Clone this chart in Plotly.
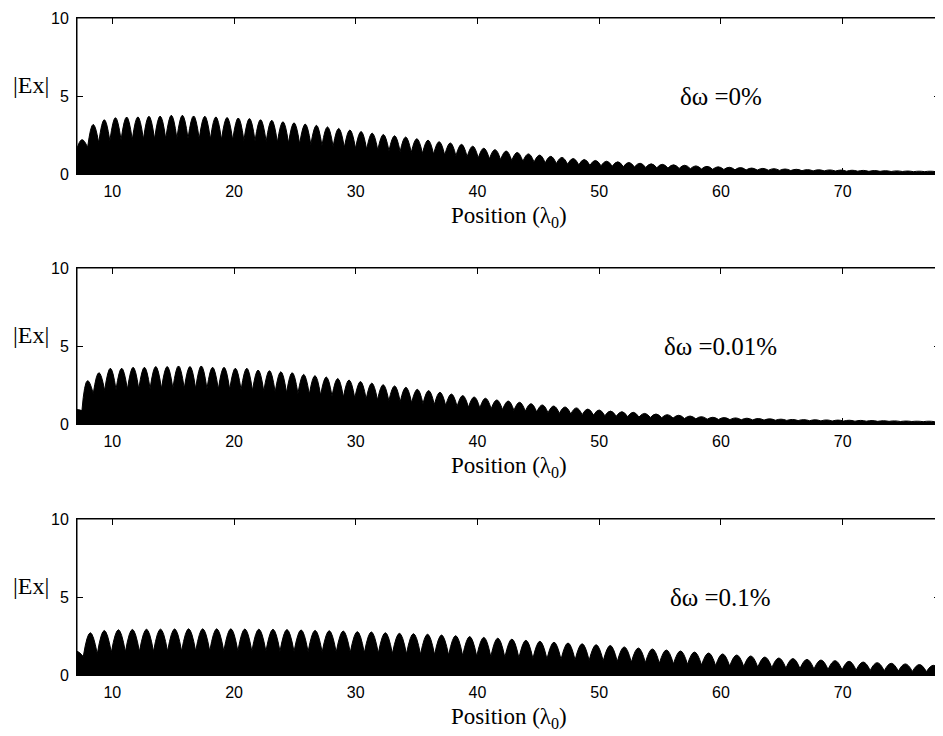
import plotly.graph_objects as go

# ---------------- data ----------------
x_ticks = [10, 20, 30, 40, 50, 60, 70]
y_ticks = [0, 5, 10]
panel_labels = ["δω =0%", "δω =0.01%", "δω =0.1%"]

# Panel 1 (δω = 0%): hump peak positions, peak heights, dips between humps
peak_x_1 = [7.51, 8.43, 9.34, 10.26, 11.18, 12.10, 13.01, 13.93, 14.85, 15.76,
            16.68, 17.60, 18.51, 19.43, 20.35, 21.27, 22.18, 23.10, 24.02, 24.93,
            25.85, 26.77, 27.68, 28.60, 29.52, 30.44, 31.35, 32.27, 33.19, 34.10,
            35.02, 35.94, 36.85, 37.77, 38.69, 39.61, 40.52, 41.44, 42.36, 43.27,
            44.19, 45.11, 46.02, 46.94, 47.86, 48.78, 49.69, 50.61, 51.53, 52.44,
            53.36, 54.28, 55.19, 56.11, 57.03, 57.95, 58.86, 59.78, 60.70, 61.61,
            62.53, 63.45, 64.36, 65.28, 66.20, 67.12, 68.03, 68.95, 69.87, 70.78,
            71.70, 72.62, 73.53, 74.45, 75.37, 76.29, 77.20, 78.12]
peak_y_1 = [2.20, 3.18, 3.48, 3.61, 3.65, 3.66, 3.70, 3.71, 3.76, 3.76,
            3.72, 3.70, 3.66, 3.62, 3.59, 3.55, 3.48, 3.44, 3.35, 3.28,
            3.20, 3.12, 3.02, 2.92, 2.82, 2.72, 2.62, 2.53, 2.45, 2.37,
            2.26, 2.17, 2.07, 1.99, 1.90, 1.78, 1.65, 1.56, 1.47, 1.38,
            1.29, 1.21, 1.13, 1.06, 0.99, 0.93, 0.87, 0.82, 0.78, 0.74,
            0.69, 0.65, 0.62, 0.59, 0.56, 0.52, 0.49, 0.46, 0.43, 0.41,
            0.38, 0.36, 0.34, 0.32, 0.30, 0.28, 0.27, 0.26, 0.25, 0.24,
            0.23, 0.22, 0.21, 0.20, 0.19, 0.18, 0.18, 0.17]
dip_y_1 = [1.50, 1.70, 2.00, 2.12, 2.18, 2.20, 2.22, 2.24, 2.26, 2.28,
           2.27, 2.25, 2.23, 2.20, 2.18, 2.15, 2.12, 2.08, 2.03, 1.98,
           1.93, 1.88, 1.82, 1.76, 1.70, 1.64, 1.58, 1.53, 1.48, 1.43,
           1.38, 1.32, 1.27, 1.21, 1.16, 1.10, 1.03, 0.97, 0.92, 0.86,
           0.81, 0.76, 0.71, 0.67, 0.63, 0.59, 0.56, 0.53, 0.50, 0.47,
           0.45, 0.42, 0.40, 0.38, 0.36, 0.34, 0.32, 0.30, 0.29, 0.27,
           0.26, 0.25, 0.24, 0.23, 0.22, 0.21, 0.20, 0.20, 0.19, 0.18,
           0.18, 0.17, 0.17, 0.16, 0.16, 0.15, 0.15, 0.15, 0.14]

# Panel 2 (δω = 0.01%)
peak_x_2 = [7.04, 7.97, 8.90, 9.84, 10.77, 11.71, 12.64, 13.57, 14.51, 15.44,
            16.38, 17.31, 18.24, 19.18, 20.11, 21.05, 21.98, 22.91, 23.85, 24.78,
            25.72, 26.65, 27.58, 28.52, 29.45, 30.39, 31.32, 32.25, 33.19, 34.12,
            35.06, 35.99, 36.92, 37.86, 38.79, 39.73, 40.66, 41.59, 42.53, 43.46,
            44.40, 45.33, 46.26, 47.20, 48.13, 49.07, 50.00, 50.93, 51.87, 52.80,
            53.74, 54.67, 55.60, 56.54, 57.47, 58.41, 59.34, 60.27, 61.21, 62.14,
            63.08, 64.01, 64.94, 65.88, 66.81, 67.75, 68.68, 69.61, 70.55, 71.48,
            72.42, 73.35, 74.28, 75.22, 76.15, 77.09, 78.02]
peak_y_2 = [0.93,
            2.78, 3.29, 3.57, 3.57, 3.63, 3.63, 3.68, 3.68, 3.72, 3.68,
            3.72, 3.63, 3.63, 3.57, 3.57, 3.46, 3.42, 3.35, 3.29, 3.18,
            3.10, 3.01, 2.91, 2.82, 2.72, 2.62, 2.52, 2.44, 2.35, 2.22,
            2.14, 2.03, 1.92, 1.82, 1.73,
            1.65, 1.54, 1.47, 1.39, 1.30, 1.22, 1.15, 1.09, 1.03, 0.96,
            0.90, 0.83, 0.79, 0.75, 0.68, 0.64, 0.60, 0.56, 0.51, 0.47, 0.43,
            0.41, 0.39, 0.37, 0.35, 0.33, 0.31, 0.29, 0.28, 0.27, 0.26,
            0.25, 0.24, 0.23, 0.22, 0.21, 0.20, 0.19, 0.18, 0.18, 0.17]
dip_y_2 = [0.90, 0.86, 1.95,
           2.15, 2.20, 2.22, 2.24, 2.26, 2.27, 2.28, 2.28, 2.27, 2.25,
           2.23, 2.21, 2.18, 2.14, 2.10, 2.05, 2.00, 1.95, 1.90, 1.84,
           1.78, 1.72, 1.66, 1.60, 1.54, 1.48, 1.42, 1.36, 1.30, 1.24,
           1.18, 1.12, 1.07, 1.02, 0.97, 0.92, 0.87, 0.82, 0.77, 0.72,
           0.68, 0.64, 0.60, 0.57, 0.53, 0.50, 0.47, 0.45, 0.42, 0.40,
           0.38, 0.35, 0.33, 0.31, 0.29, 0.28, 0.27, 0.26, 0.25, 0.24,
           0.23, 0.22, 0.21, 0.20, 0.19, 0.19, 0.18, 0.18, 0.17, 0.17,
           0.16, 0.16, 0.15, 0.15, 0.14]

# Panel 3 (δω = 0.1%)
peak_x_3 = [7.04, 8.19, 9.34, 10.50, 11.65, 12.81, 13.96, 15.12, 16.27, 17.43,
            18.58, 19.74, 20.89, 22.04, 23.20, 24.35, 25.51, 26.66, 27.82, 28.97,
            30.13, 31.28, 32.43, 33.59, 34.74, 35.90, 37.05, 38.21, 39.36, 40.52,
            41.67, 42.83, 43.98, 45.13, 46.29, 47.44, 48.60, 49.75, 50.91, 52.06,
            53.22, 54.37, 55.52, 56.68, 57.83, 58.99, 60.14, 61.30, 62.45, 63.61,
            64.76, 65.92, 67.07, 68.22, 69.38, 70.53, 71.69, 72.84, 74.00, 75.15,
            76.31, 77.46, 78.61]
peak_y_3 = [1.55,
            2.71, 2.85, 2.90, 2.92, 2.93, 2.94, 2.95, 2.96, 2.96, 2.96,
            2.96, 2.95, 2.94, 2.93, 2.91, 2.89, 2.86, 2.84, 2.82, 2.78,
            2.76, 2.71, 2.67, 2.65, 2.61, 2.56, 2.52, 2.46, 2.41, 2.36,
            2.30, 2.22, 2.16, 2.10, 2.05, 2.00, 1.94, 1.89, 1.80, 1.73,
            1.67, 1.60, 1.54, 1.47, 1.41, 1.35, 1.28, 1.22, 1.15, 1.09,
            1.05, 1.00, 0.96, 0.92, 0.88, 0.83, 0.79, 0.75, 0.71, 0.67,
            0.62, 0.58]
dip_y_3 = [1.45, 1.18, 1.35,
           1.45, 1.48, 1.50, 1.50, 1.52, 1.52, 1.53, 1.53, 1.53, 1.53,
           1.52, 1.52, 1.51, 1.50, 1.49, 1.47, 1.46, 1.44,
           1.42, 1.40, 1.37, 1.35, 1.32, 1.30, 1.27, 1.24, 1.20, 1.17,
           1.13, 1.09, 1.05, 1.02, 0.99, 0.96, 0.93, 0.90, 0.86, 0.82,
           0.79, 0.75, 0.71, 0.68, 0.64, 0.60, 0.57, 0.54, 0.50, 0.47,
           0.44, 0.41, 0.38, 0.36, 0.33, 0.31, 0.29, 0.27, 0.25, 0.23,
           0.21, 0.19, 0.17]

panels = [(peak_x_1, peak_y_1, dip_y_1),
          (peak_x_2, peak_y_2, dip_y_2),
          (peak_x_3, peak_y_3, dip_y_3)]

# ---------------- figure ----------------
# The page body has an 8px margin, so the figure is drawn 8px smaller and
# every pixel position below is relative to the figure's own origin.
OFF = 8
W, H = 943 - OFF, 736 - OFF
rows_px = [(18 - OFF, 174 - OFF), (268 - OFF, 424 - OFF), (519 - OFF, 675 - OFF)]
m_l, m_r = 77 - OFF, 3
m_t, m_b = rows_px[0][0], H - rows_px[2][1]
plot_h = H - m_t - m_b
domains = [[(H - m_b - b) / plot_h, (H - m_b - t) / plot_h] for t, b in rows_px]
domains = [[max(0.0, d0), min(1.0, d1)] for d0, d1 in domains]

fig = go.Figure()
serif = "Liberation Serif"
sans = "Liberation Sans"

for i, (px, py, dy) in enumerate(panels):
    # dip positions: halfway between neighbouring humps
    dx = [px[0] - (px[1] - px[0]) / 2]
    dx += [(a + b) / 2 for a, b in zip(px[:-1], px[1:])]
    dx += [px[-1] + (px[-1] - px[-2]) / 2]
    xs, ys = [], []
    for j in range(len(px)):
        xs += [dx[j], px[j], dx[j + 1], None]
        ys += [dy[j], py[j], dy[j + 1], None]
    n = "" if i == 0 else str(i + 1)
    fig.add_trace(go.Scatter(
        x=xs, y=ys, mode="lines",
        line=dict(color="black", width=1, shape="spline", smoothing=1.3),
        fill="tozeroy", fillcolor="black",
        xaxis="x" + n, yaxis="y" + n,
        showlegend=False, hoverinfo="skip"))

    axis_common = dict(ticks="inside", ticklen=6, tickwidth=1, tickcolor="black",
                       showline=True, linecolor="black", linewidth=1,
                       mirror="allticks", showgrid=False, zeroline=False,
                       tickfont=dict(family=sans, size=16, color="black"))
    fig.layout["xaxis" + n] = dict(
        range=[7.1, 78.0], tickvals=x_ticks, ticktext=[str(v) for v in x_ticks],
        anchor="y" + n, domain=[0, 1], ticklabelstandoff=3, **axis_common)
    fig.layout["yaxis" + n] = dict(
        range=[0, 10], tickvals=y_ticks, ticktext=[str(v) for v in y_ticks],
        anchor="x" + n, domain=domains[i], ticklabelstandoff=4, **axis_common)

    # frame around the panel
    fig.add_shape(type="rect", xref="x" + n + " domain", yref="y" + n + " domain",
                  x0=0, x1=1, y0=0, y1=1, line=dict(color="black", width=1),
                  fillcolor="rgba(0,0,0,0)", layer="above")

    # panel label
    fig.add_annotation(x=60, y=4.95, xref="x" + n, yref="y" + n,
                       text=panel_labels[i], showarrow=False,
                       xanchor="center", yanchor="middle",
                       font=dict(family=serif, size=25, color="black"))
    # y-axis label
    fig.add_annotation(x=0, y=5.7, xref="x" + n + " domain", yref="y" + n,
                       text="|Ex|", showarrow=False, xanchor="right",
                       yanchor="middle", xshift=-26,
                       font=dict(family=serif, size=24, color="black"))
    # x-axis title
    fig.add_annotation(x=0.5, y=0, xref="x" + n + " domain", yref="y" + n + " domain",
                       text="Position (λ<sub>0</sub>)", showarrow=False,
                       xanchor="center", yanchor="top", yshift=-27,
                       font=dict(family=serif, size=23, color="black"))

fig.update_layout(width=W, height=H,
                  margin=dict(l=m_l, r=m_r, t=m_t, b=m_b, autoexpand=False),
                  paper_bgcolor="white", plot_bgcolor="white")

fig.write_html("out.html")
